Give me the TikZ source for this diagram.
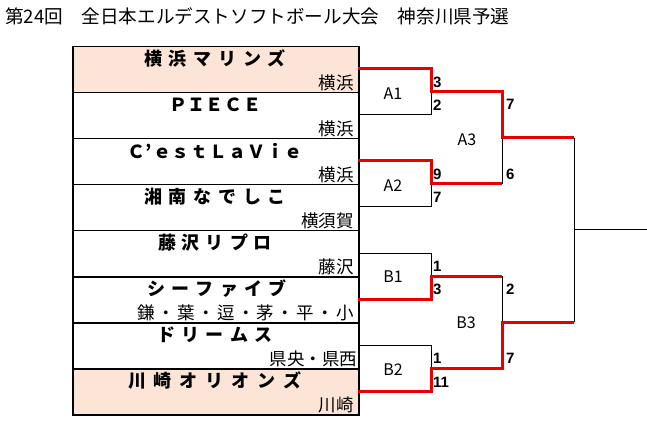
\documentclass[tikz,border=0pt]{standalone}
\usepackage{fontspec}
\setmainfont{Noto Sans CJK JP}
\newfontfamily\jpfont{Noto Sans CJK JP}
\newfontfamily\numfont{Liberation Sans}
\definecolor{peach}{RGB}{252,228,214}
\definecolor{wred}{RGB}{232,0,0}
\newcommand\spreadtext[2]{\makebox[#1][s]{\spreadaux#2\relax}}
\def\spreadaux#1{#1\spreadnext}
\def\spreadnext#1{\ifx\relax#1\else\hfil#1\expandafter\spreadnext\fi}
\tikzset{
  rowcell/.style={draw=black, line width=1.5pt, minimum width=286pt, minimum height=46pt, inner sep=0pt, anchor=north west},
  teamname/.style={inner sep=0pt, font=\jpfont\bfseries\fontsize{18}{21}\selectfont},
  region/.style={inner sep=0pt, anchor=south east, font=\jpfont\fontsize{17.5}{20}\selectfont},
  score/.style={inner sep=0pt, anchor=west, font=\numfont\bfseries\fontsize{15}{17}\selectfont},
  gamelabel/.style={inner sep=0pt, font=\jpfont\fontsize{16}{19}\selectfont},
  blackline/.style={draw=black, line width=1pt},
  redline/.style={draw=wred, line width=3pt, line join=miter},
}
\begin{document}
\begin{tikzpicture}[x=1pt, y=-1pt]
\useasboundingbox (0,0) rectangle (647,438);
\node[anchor=west, inner sep=0pt, font=\jpfont\fontsize{18.6}{21}\selectfont] (title) at (5,16) {第24回　全日本エルデストソフトボール大会　神奈川県予選};
% table rows
\node[rowcell, fill=peach] (r1) at (72,46) {};
\node[rowcell] (r2) at (72,92) {};
\node[rowcell] (r3) at (72,138) {};
\node[rowcell] (r4) at (72,184) {};
\node[rowcell] (r5) at (72,230) {};
\node[rowcell] (r6) at (72,276) {};
\node[rowcell] (r7) at (72,322) {};
\node[rowcell, fill=peach] (r8) at (72,368) {};
% team names
\node[teamname] (n1) at (215,58.5) {\spreadtext{142pt}{横浜マリンズ}};
\node[teamname] (n2) at (215,104.5) {\spreadtext{92pt}{ＰＩＥＣＥ}};
\node[teamname] (n3) at (215,150.5) {\spreadtext{176pt}{Ｃ’ｅｓｔＬａＶｉｅ}};
\node[teamname] (n4) at (215,196.5) {\spreadtext{142pt}{湘南なでしこ}};
\node[teamname] (n5) at (215,242.5) {\spreadtext{114pt}{藤沢リプロ}};
\node[teamname] (n6) at (217,288.5) {\spreadtext{140pt}{シーファイブ}};
\node[teamname] (n7) at (215,334.5) {\spreadtext{115pt}{ドリームス}};
\node[teamname] (n8) at (215,380.5) {\spreadtext{174pt}{川崎オリオンズ}};
% regions
\node[region] (g1) at (354,91) {横浜};
\node[region] (g2) at (354,137) {横浜};
\node[region] (g3) at (354,183) {横浜};
\node[region] (g4) at (354,229) {横須賀};
\node[region] (g5) at (354,275) {藤沢};
\node[region] (g6) at (354,321) {\spreadtext{216pt}{鎌・葉・逗・茅・平・小}};
\node[region] (g7) at (354,367) {\spreadtext{84pt}{県央・県西}};
\node[region] (g8) at (354,413) {川崎};
% bracket coordinates
\coordinate (e1) at (358,69);  \coordinate (e2) at (358,115);
\coordinate (e3) at (358,161); \coordinate (e4) at (358,207);
\coordinate (e5) at (358,253); \coordinate (e6) at (358,299);
\coordinate (e7) at (358,345); \coordinate (e8) at (358,391);
\coordinate (a1) at (431,92);  \coordinate (a2) at (431,184);
\coordinate (b1) at (431,276); \coordinate (b2) at (431,368);
\coordinate (a3) at (502,138); \coordinate (b3) at (502,322);
\coordinate (fin) at (574,230);
\coordinate (champ) at (647,230);
% black lines
\draw[blackline] (e2) -| (a1);
\draw[blackline] (e4) -| (a2);
\draw[blackline] (e5) -| (b1);
\draw[blackline] (e7) -| (b2);
\draw[blackline] (a2 -| a3) -- (a3);
\draw[blackline] (b1 -| b3) -- (b3);
\draw[blackline] (a3 -| fin) -- (b3 -| fin);
\draw[blackline] (fin) -- (champ);
% red winner lines
\draw[redline] (e1) -| (a1) -| (a3) -- (a3 -| fin);
\draw[redline] (e3) -| (a2) -- (a2 -| a3);
\draw[redline] (e6) -| (b1) -- (b1 -| b3);
\draw[redline] (e8) -| (b2) -| (b3) -- (b3 -| fin);
% game labels
\node[gamelabel] (lA1) at (393,94) {A1};
\node[gamelabel] (lA2) at (393,186) {A2};
\node[gamelabel] (lA3) at (467,140) {A3};
\node[gamelabel] (lB1) at (393,277) {B1};
\node[gamelabel] (lB2) at (393,370) {B2};
\node[gamelabel] (lB3) at (466,323) {B3};
% scores
\node[score] (s1) at (433,82.5) {3};
\node[score] (s2) at (433,105) {2};
\node[score] (s3) at (433,174) {9};
\node[score] (s4) at (433,197) {7};
\node[score] (s5) at (506,104) {7};
\node[score] (s6) at (506,174) {6};
\node[score] (s7) at (433,266) {1};
\node[score] (s8) at (433,289) {3};
\node[score] (s9) at (433,358) {1};
\node[score] (s10) at (433,382) {11};
\node[score] (s11) at (506,289) {2};
\node[score] (s12) at (506,358) {7};
\end{tikzpicture}
\end{document}
